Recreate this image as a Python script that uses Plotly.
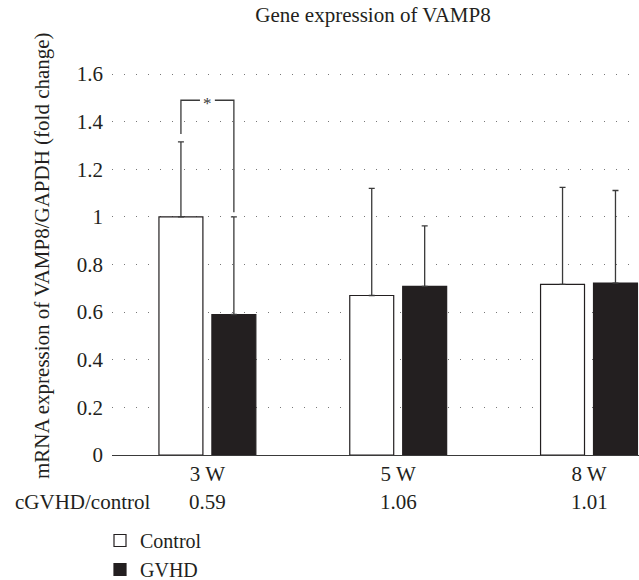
import plotly.graph_objects as go

# ---- data ----
categories = ["3 W", "5 W", "8 W"]
control_vals = [1.00, 0.67, 0.717]
control_err = [0.315, 0.45, 0.407]
gvhd_vals = [0.59, 0.708, 0.722]
gvhd_err = [0.41, 0.254, 0.389]
ratio_label = "cGVHD/control"
ratios = ["0.59", "1.06", "1.01"]
y_ticks = [0, 0.2, 0.4, 0.6, 0.8, 1.0, 1.2, 1.4, 1.6]
y_ticktext = ["0", "0.2", "0.4", "0.6", "0.8", "1", "1.2", "1.4", "1.6"]
sig_label = "*"

FONT = "Liberation Serif, Times New Roman, serif"
FS = 21
INK = "#231f20"
BARGAP = 0.445
BARGROUPGAP = 0.17

xpos = list(range(len(categories)))

fig = go.Figure()
fig.add_trace(go.Bar(
    x=xpos, y=control_vals, name="Control",
    marker=dict(color="white", line=dict(color=INK, width=1.2)),
    error_y=dict(type="data", array=control_err, arrayminus=[0]*3, symmetric=False,
                 color="#3a3a3a", thickness=1.3, width=3),
))
fig.add_trace(go.Bar(
    x=xpos, y=gvhd_vals, name="GVHD",
    marker=dict(color=INK, line=dict(color=INK, width=1.2)),
    error_y=dict(type="data", array=gvhd_err, arrayminus=[0]*3, symmetric=False,
                 color="#3a3a3a", thickness=1.3, width=3),
))

# significance bracket between the 3 W bars
off = (1 - BARGAP) / 4
xc, xg = xpos[0] - off, xpos[0] + off
y_top = 1.49
y_left = control_vals[0] + control_err[0] + 0.033
y_right = gvhd_vals[0] + gvhd_err[0] + 0.02
mid = (xc + xg) / 2
gap = 0.039
line = dict(color="#3a3a3a", width=1.3)
fig.add_shape(type="path", xref="x", yref="y", line=line,
              path=f"M {xc},{y_left} L {xc},{y_top} L {mid-gap},{y_top}")
fig.add_shape(type="path", xref="x", yref="y", line=line,
              path=f"M {mid+gap},{y_top} L {xg},{y_top} L {xg},{y_right}")
fig.add_annotation(x=mid, y=y_top, xref="x", yref="y", text=sig_label, showarrow=False,
                   font=dict(family=FONT, size=17, color="#3a3a3a"), yshift=-3)

# ratio row
fig.add_annotation(x=0.0759, y=-0.1175, xref="paper", yref="paper", text=ratio_label,
                   showarrow=False, xanchor="right", yanchor="middle",
                   font=dict(family=FONT, size=FS, color=INK))
for xv, r in zip(xpos, ratios):
    fig.add_annotation(x=xv, y=-0.1175, xref="x", yref="paper", text=r, showarrow=False,
                       yanchor="middle", font=dict(family=FONT, size=FS, color=INK))

# y-axis title
fig.add_annotation(x=-0.1328, y=0.4975, xref="paper", yref="paper",
                   text="mRNA expression of VAMP8/GAPDH (fold change)",
                   showarrow=False, textangle=-90, xanchor="center", yanchor="middle",
                   font=dict(family=FONT, size=FS, color=INK))

fig.update_layout(
    width=639, height=580,
    margin=dict(l=112, r=0, t=55, b=125, autoexpand=False),
    paper_bgcolor="white", plot_bgcolor="white",
    barmode="group", bargap=BARGAP, bargroupgap=BARGROUPGAP,
    font=dict(family=FONT, size=FS, color=INK),
    title=dict(text="Gene expression of VAMP8", x=373/639, xanchor="center", xref="container",
               y=1 - 15/580, yanchor="middle", yref="container",
               font=dict(family=FONT, size=FS, color=INK)),
    showlegend=True,
    legend=dict(x=100/639, y=1 - 521/580, xref="container", yref="container",
                xanchor="left", yanchor="top", orientation="v",
                font=dict(family=FONT, size=20, color=INK),
                bgcolor="rgba(0,0,0,0)"),
)
fig.update_xaxes(range=[-0.5, 2.262], tickvals=xpos, ticktext=categories, automargin=False,
                 showgrid=False, zeroline=False, showline=True, linecolor="#3a3a3a", linewidth=1.3,
                 ticks="", ticklabelstandoff=0)
fig.update_yaxes(range=[0, 1.68], tickvals=y_ticks, ticktext=y_ticktext, automargin=False,
                 showgrid=True, gridcolor="#777777", gridwidth=1.2, griddash="1px,11px",
                 zeroline=False, showline=False, ticks="", ticklabelstandoff=8)

fig.write_html("out.html", config={"displayModeBar": False},
               post_script="document.body.style.margin='0';document.body.style.overflow='hidden';")
